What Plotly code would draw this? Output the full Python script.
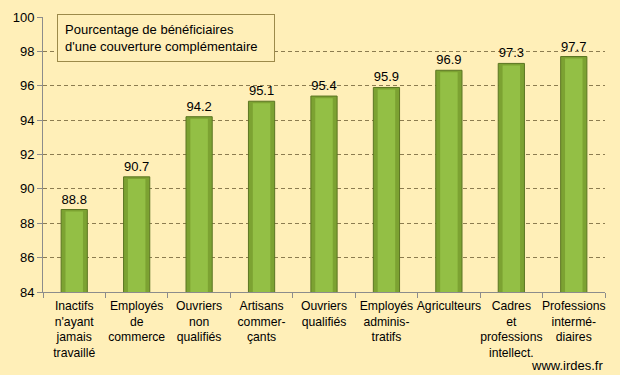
import plotly.graph_objects as go

categories = [
    "Inactifs<br>n'ayant<br>jamais<br>travaillé",
    "Employés<br>de<br>commerce",
    "Ouvriers<br>non<br>qualifiés",
    "Artisans<br>commer-<br>çants",
    "Ouvriers<br>qualifiés",
    "Employés<br>adminis-<br>tratifs",
    "Agriculteurs",
    "Cadres<br>et<br>professions<br>intellect.",
    "Professions<br>intermé-<br>diaires",
]
values = [88.8, 90.7, 94.2, 95.1, 95.4, 95.9, 96.9, 97.3, 97.7]
y_ticks = [84, 86, 88, 90, 92, 94, 96, 98, 100]

BG = "#FFEFB8"
FONT = "Liberation Sans, Arial, sans-serif"

fig = go.Figure()
fig.add_trace(go.Bar(
    x=categories,
    y=values,
    width=0.42,
    marker=dict(color="#7CA232", line=dict(color="#5B7522", width=1)),
    text=[f"{v:.1f}" for v in values],
    textposition="outside",
    textfont=dict(family=FONT, size=13, color="#000000"),
    cliponaxis=False,
    hoverinfo="skip",
))
fig.add_trace(go.Bar(
    x=categories,
    y=[v - 0.12 for v in values],
    width=0.28,
    marker=dict(color="#93BF45", line=dict(width=0)),
    hoverinfo="skip",
))

fig.update_layout(
    width=620, height=375,
    paper_bgcolor=BG, plot_bgcolor=BG,
    margin=dict(l=43, r=15, t=17, b=83),
    showlegend=False,
    barmode="overlay",
    font=dict(family=FONT, size=13, color="#000000"),
)
fig.update_xaxes(
    showline=True, linecolor="#8C8C8C", linewidth=1,
    ticks="outside", tickson="boundaries", ticklen=5, tickcolor="#8C8C8C",
    tickangle=0, tickfont=dict(size=12.2),
    ticklabelstandoff=2,
    showgrid=False, automargin=False,
)
fig.update_yaxes(
    range=[84, 100], tickvals=y_ticks,
    showline=True, linecolor="#8C8C8C", linewidth=1,
    ticks="outside", ticklen=5, tickcolor="#8C8C8C",
    showgrid=True, gridcolor="#8C7C50", griddash="4px,3px", gridwidth=1,
    tickfont=dict(size=13),
    zeroline=False, automargin=False,
)

fig.add_annotation(
    xref="paper", yref="paper", x=0.025, y=1.01, xanchor="left", yanchor="top",
    text="Pourcentage de bénéficiaires<br>d'une couverture complémentaire",
    showarrow=False, align="left", width=202,
    font=dict(family=FONT, size=13, color="#000000"),
    bgcolor=BG, bordercolor="#9C8A4A", borderwidth=1, borderpad=7,
)
fig.add_annotation(
    xref="paper", yref="paper", x=1.0, y=-0.302, xanchor="right", yanchor="bottom",
    text="www.irdes.fr", showarrow=False,
    font=dict(family=FONT, size=13, color="#000000"),
)

fig.write_html(
    "out.html",
    config={"displayModeBar": False},
    post_script="document.body.style.margin='0';document.body.style.background='#FFEFB8';",
)
